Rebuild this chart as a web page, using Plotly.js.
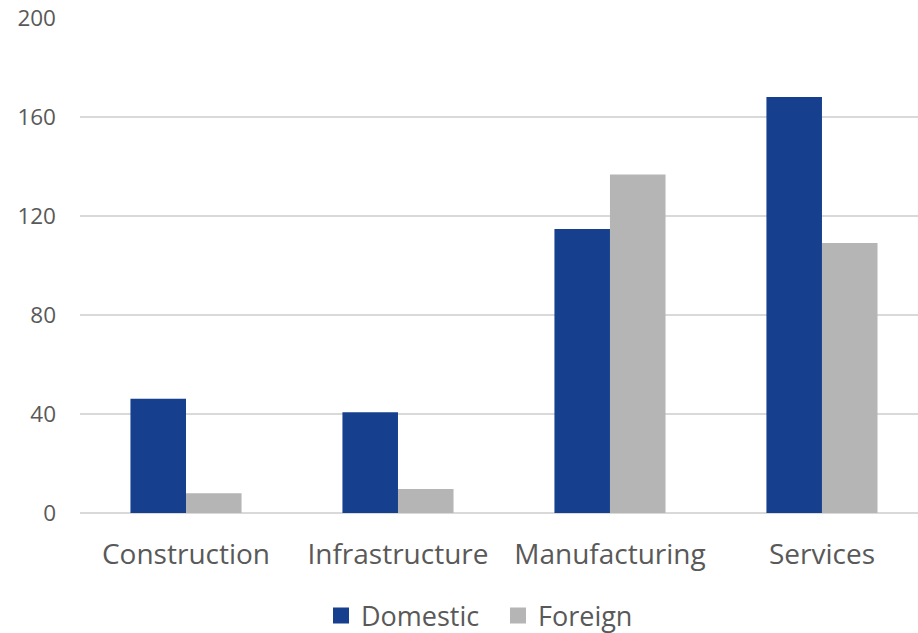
<!DOCTYPE html>
<html>
<head>
<meta charset="utf-8">
<script src="https://cdn.plot.ly/plotly-3.0.1.min.js"></script>
<style>html,body{margin:0;padding:0;background:#fff;}#chart{width:918px;height:633px;}</style>
</head>
<body>
<div id="chart"></div>
<script>
const categories = ["Construction", "Infrastructure", "Manufacturing", "Services"];
const domestic = [46.2, 40.7, 114.7, 168.1];
const foreign = [8.0, 9.7, 136.8, 109.1];
const yTicks = [0, 40, 80, 120, 160, 200];
const seriesNames = ["Domestic", "Foreign"];

const colDom = "#163F8E";
const colFor = "#B5B5B5";
const txt = "#595959";
const font = "Open Sans, sans-serif";

const data = [
  {type: "bar", x: categories, y: domestic, name: seriesNames[0], marker: {color: colDom}, showlegend: false, hoverinfo: "none"},
  {type: "bar", x: categories, y: foreign, name: seriesNames[1], marker: {color: colFor}, showlegend: false, hoverinfo: "none"},
  {type: "scatter", mode: "markers", x: [null], y: [null], name: seriesNames[0], marker: {symbol: "square", size: 17, color: colDom}},
  {type: "scatter", mode: "markers", x: [null], y: [null], name: seriesNames[1], marker: {symbol: "square", size: 17, color: colFor}}
];

const layout = {
  width: 918, height: 633,
  margin: {l: 80, r: 0, t: 18, b: 120, autoexpand: false},
  paper_bgcolor: "#fff", plot_bgcolor: "#fff",
  font: {family: font, color: txt},
  barmode: "group",
  bargap: 0.476,
  bargroupgap: 0,
  xaxis: {
    type: "category",
    range: [-0.5, 3.453],
    showgrid: false, zeroline: false, showline: false, ticks: "",
    tickfont: {size: 28, color: txt, family: font},
    ticklabelstandoff: 22,
    automargin: false,
    fixedrange: true
  },
  yaxis: {
    range: [0, 200],
    tickvals: yTicks,
    ticktext: yTicks.map(String),
    showgrid: true, gridcolor: "#D9D9D9", gridwidth: 2,
    zeroline: true, zerolinecolor: "#D9D9D9", zerolinewidth: 2,
    showline: false, ticks: "",
    tickfont: {size: 22.5, color: txt, family: font},
    ticklabelstandoff: 23,
    automargin: false,
    fixedrange: true
  },
  showlegend: true,
  legend: {
    orientation: "h",
    x: 0.2876, xanchor: "left",
    yref: "container",
    y: 0.027, yanchor: "middle",
    font: {size: 27, color: txt, family: font},
    itemsizing: "trace",
    entrywidth: 132, entrywidthmode: "pixels",
    bgcolor: "rgba(0,0,0,0)"
  }
};

Plotly.newPlot("chart", data, layout, {displayModeBar: false, staticPlot: true});
</script>
</body>
</html>
